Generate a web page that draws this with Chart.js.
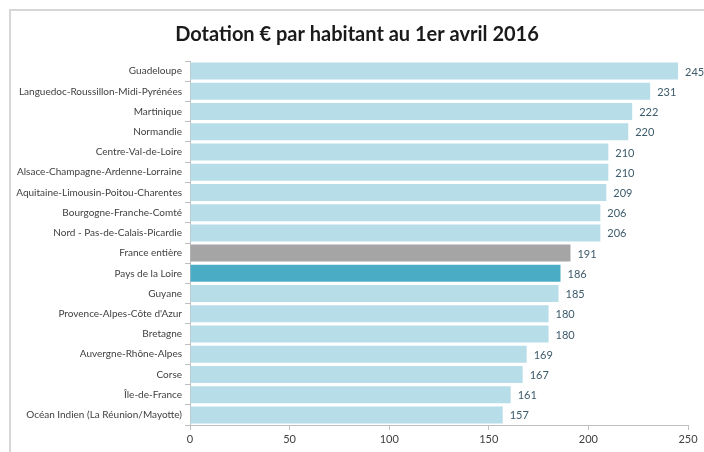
<!DOCTYPE html>
<html>
<head>
<meta charset="utf-8">
<script src="https://cdn.jsdelivr.net/npm/chart.js@4"></script>
<style>
  html, body { margin: 0; padding: 0; background: #fff; }
  #wrap { position: relative; width: 704px; height: 452px; overflow: hidden; }
  #frame { position: absolute; left: 9px; top: 9px; width: 720px; height: 460px;
    border-left: 2px solid #d6d6d6; border-top: 2px solid #d6d6d6; }
  canvas { position: absolute; left: 0; top: 0; }
</style>
</head>
<body>
<div id="wrap">
  <div id="frame"></div>
  <canvas id="chart" width="704" height="452"></canvas>
</div>
<script>
const TITLE = "Dotation € par habitant au 1er avril 2016";
const regions = [
  "Guadeloupe",
  "Languedoc-Roussillon-Midi-Pyrénées",
  "Martinique",
  "Normandie",
  "Centre-Val-de-Loire",
  "Alsace-Champagne-Ardenne-Lorraine",
  "Aquitaine-Limousin-Poitou-Charentes",
  "Bourgogne-Franche-Comté",
  "Nord - Pas-de-Calais-Picardie",
  "France entière",
  "Pays de la Loire",
  "Guyane",
  "Provence-Alpes-Côte d'Azur",
  "Bretagne",
  "Auvergne-Rhône-Alpes",
  "Corse",
  "Île-de-France",
  "Océan Indien (La Réunion/Mayotte)",
];
const dotation = [245, 231, 222, 220, 210, 210, 209, 206, 206, 191, 186, 185, 180, 180, 169, 167, 161, 157];
const xTicks = [0, 50, 100, 150, 200, 250];

const BASE = "#b7dde8";
const barColors = regions.map((r) =>
  r === "France entière" ? "#a5a5a5" : r === "Pays de la Loire" ? "#4bacc6" : BASE);

// value labels at the end of each bar
const valueLabels = {
  id: "valueLabels",
  afterDatasetsDraw(chart) {
    const ctx = chart.ctx;
    const meta = chart.getDatasetMeta(0);
    ctx.save();
    ctx.font = "11px Lato";
    ctx.fillStyle = "#3d5b6b";
    ctx.textAlign = "left";
    ctx.textBaseline = "middle";
    meta.data.forEach((bar, i) => {
      ctx.fillText(String(dotation[i]), bar.x + 7, bar.y + 1);
    });
    ctx.restore();
  },
};

// title drawn by hand: the original is centred a bit right of the canvas middle
const titlePlugin = {
  id: "titleText",
  afterDraw(chart) {
    const ctx = chart.ctx;
    ctx.save();
    ctx.font = "bold 20px Lato";
    ctx.fillStyle = "#1a1a1a";
    ctx.textAlign = "center";
    ctx.textBaseline = "middle";
    ctx.fillText(TITLE, 357, 35);
    ctx.restore();
  },
};

new Chart(document.getElementById("chart"), {
  type: "bar",
  data: {
    labels: regions,
    datasets: [{
      data: dotation,
      backgroundColor: barColors,
      borderWidth: 0,
      barPercentage: 0.84,
      categoryPercentage: 1,
    }],
  },
  plugins: [valueLabels, titlePlugin],
  options: {
    indexAxis: "y",
    responsive: false,
    animation: false,
    layout: { padding: { left: 0, right: 16, top: 61, bottom: 0 } },
    plugins: {
      legend: { display: false },
      tooltip: { enabled: false },
      title: { display: false },
    },
    scales: {
      x: {
        min: 0,
        max: 250,
        afterBuildTicks(scale) { scale.ticks = xTicks.map((v) => ({ value: v })); },
        afterFit(scale) { scale.height = 27; },
        grid: { drawOnChartArea: false, tickLength: 5, color: "#bfbfbf" },
        border: { color: "#bfbfbf" },
        ticks: { color: "#404040", font: { family: "Lato", size: 11 }, padding: 3 },
      },
      y: {
        afterFit(scale) { scale.width = 190; },
        grid: { drawOnChartArea: false, tickLength: 5, color: "#bfbfbf", offset: true },
        border: { color: "#bfbfbf" },
        ticks: { color: "#404040", font: { family: "Lato", size: 10 }, padding: 3, autoSkip: false },
      },
    },
  },
});
</script>
</body>
</html>
